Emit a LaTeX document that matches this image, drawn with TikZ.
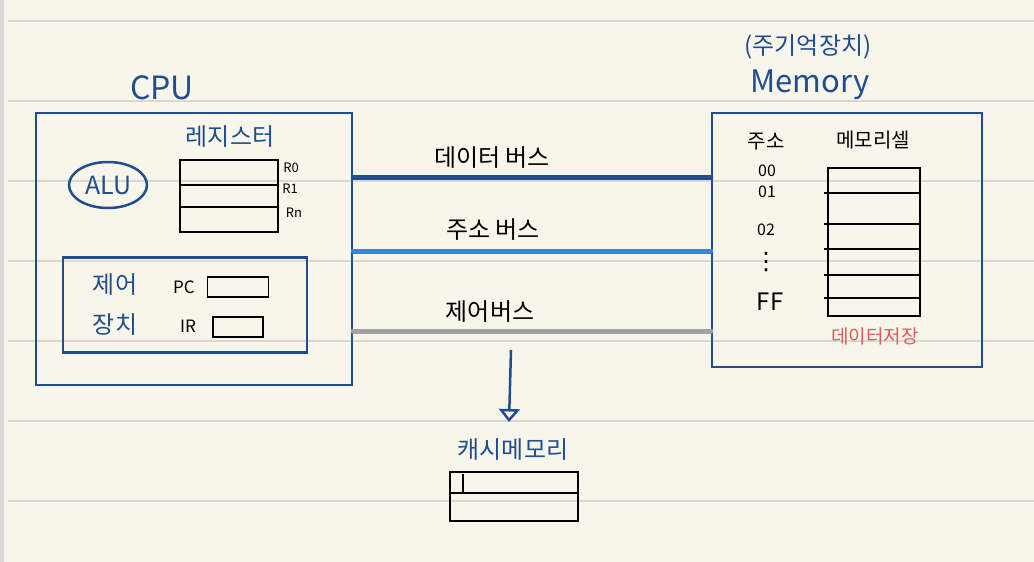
\documentclass[tikz,border=0pt]{standalone}
\usepackage{fontspec}
\setmainfont{Noto Sans CJK KR}
\newfontfamily\dotsfont{DejaVu Sans}
\usetikzlibrary{positioning,arrows.meta,shapes.geometric}

\definecolor{paper}{HTML}{F8F6EB}
\definecolor{ruling}{HTML}{D8D8D5}
\definecolor{ink}{HTML}{1F4D8E}
\definecolor{addrblue}{HTML}{3B82E2}
\definecolor{ctrlgray}{HTML}{A2A2A2}
\definecolor{memo}{HTML}{E25A5A}

\tikzset{
  pen/.style={draw=ink, line width=2.5pt},
  blackpen/.style={draw=black, line width=1.3pt},
  inktext/.style={inner sep=0pt, text=ink, font=\fontsize{#1}{#1}\selectfont},
  blacktext/.style={inner sep=0pt, text=black, font=\fontsize{#1}{#1}\selectfont},
  bus/.style={line width=5pt, line cap=round},
}

\begin{document}
\begin{tikzpicture}[x=1pt,y=-1pt]
% paper
\fill[paper] (0,0) rectangle (1034,562);
\useasboundingbox (0,0) rectangle (1034,562);
\foreach \y in {21,101,...,501}
  \draw[ruling, line width=1.5pt] (8,\y) -- (1034,\y);
\fill[ruling] (0,0) rectangle (4,562);

% CPU
\node[inktext=32] (cpulabel) at (162,88) {CPU};
\node[pen, minimum width=316pt, minimum height=272pt] (cpu) at (194,249) {};
\node[inktext=24] (reglabel) at (230,137) {레지스터};
\node[pen, ellipse, minimum width=78pt, minimum height=46pt, inktext=25] (alu) at (108,185) {ALU};
\draw[blackpen] (180,160) rectangle (278,232);
\foreach \y in {185,207}
  \draw[blackpen] (180,\y) -- (278,\y);
\node[blacktext=13] (r0) at (291,168) {R0};
\node[blacktext=13] (r1) at (290,189) {R1};
\node[blacktext=13] (rn) at (294,213) {Rn};

% control unit
\node[pen, minimum width=244pt, minimum height=95pt] (ctrl) at (185,305) {};
\node[inktext=24, align=center, font=\fontsize{24}{40}\selectfont] (ctrllabel) at (115,305) {제어\\장치};
\node[blacktext=17] (pc) at (184,287) {PC};
\node[blackpen, minimum width=61pt, minimum height=20pt] (pcbox) at (238,287) {};
\node[blacktext=17] (ir) at (188,326) {IR};
\node[blackpen, minimum width=50pt, minimum height=20pt] (irbox) at (238,327) {};

% memory
\node[inktext=24] (memkr) at (808,47) {(주기억장치)};
\node[inktext=31] (memlabel) at (810,85) {Memory};
\node[pen, minimum width=270pt, minimum height=254pt] (mem) at (847,240) {};
\node[blacktext=20] (addrhead) at (766,142) {주소};
\node[blacktext=20] (cellhead) at (873,140) {메모리셀};
\node[blacktext=16] (a00) at (767,171) {00};
\node[blacktext=16] (a01) at (767,192) {01};
\node[blacktext=16] (a02) at (766,230) {02};
\node[blacktext=24, font=\dotsfont\fontsize{24}{24}\selectfont] (adots) at (766,262) {⋮};
\node[blacktext=24] (aff) at (770,302) {FF};
\draw[blackpen] (828,168) rectangle (920,316);
\foreach \y in {193,224,249,275,298}
  \draw[blackpen] (824,\y) -- (920,\y);
\node[inktext=19, text=memo] (store) at (875,336) {데이터저장};

% buses
\draw[bus, ink] (cpu.east |- 0,177) -- (mem.west |- 0,177);
\draw[bus, addrblue] (cpu.east |- 0,251) -- (mem.west |- 0,251);
\draw[bus, ctrlgray] (cpu.east |- 0,331) -- (mem.west |- 0,331);
\node[blacktext=24] (databus) at (492,158) {데이터 버스};
\node[blacktext=24] (addrbus) at (493,230) {주소 버스};
\node[blacktext=24] (ctrlbus) at (490,312) {제어버스};

% cache
\coordinate (arrowtop) at (511,350);
\coordinate (arrowtip) at (509,422);
\draw[pen, -{Triangle[open, length=13pt, width=21pt]}] (arrowtop) -- (arrowtip);
\node[inktext=24] (cachelabel) at (513,450) {캐시메모리};
\draw[blackpen] (450,472) rectangle (578,521);
\draw[blackpen] (450,493) -- (578,493);
\draw[blackpen] (463,474) -- (463,493);
\end{tikzpicture}
\end{document}
